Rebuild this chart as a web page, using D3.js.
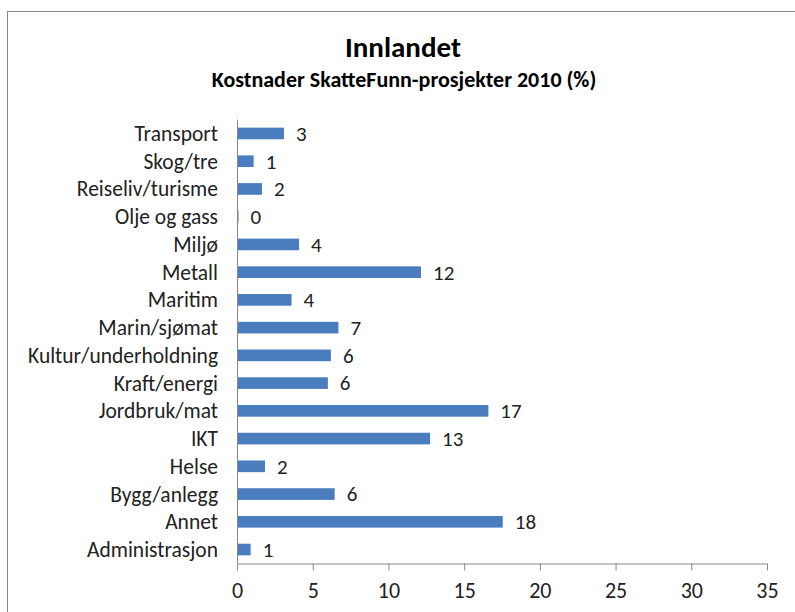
<!DOCTYPE html>
<html>
<head>
<meta charset="utf-8">
<script src="https://cdn.jsdelivr.net/npm/d3@7"></script>
<style>
  body { margin: 0; background: #fff; }
  svg { display: block; }
</style>
</head>
<body>
<svg id="chart" width="795" height="612"></svg>
<script>
const categories = ['Transport', 'Skog/tre', 'Reiseliv/turisme', 'Olje og gass', 'Miljø', 'Metall',
  'Maritim', 'Marin/sjømat', 'Kultur/underholdning', 'Kraft/energi', 'Jordbruk/mat', 'IKT',
  'Helse', 'Bygg/anlegg', 'Annet', 'Administrasjon'];
const values = [3.1, 1.1, 1.65, 0.1, 4.1, 12.15, 3.6, 6.7, 6.2, 6.0, 16.6, 12.75, 1.85, 6.45, 17.55, 0.9];
const xTicks = [0, 5, 10, 15, 20, 25, 30, 35];

const font = 'Carlito, Calibri, "Open Sans", sans-serif';

const svg = d3.select('#chart');

// chart frame
svg.append('rect')
    .attr('x', 7.5).attr('y', 11.5)
    .attr('width', 800).attr('height', 620)
    .attr('fill', 'none')
    .attr('stroke', '#888');

svg.append('text')
    .attr('x', 403).attr('y', 57)
    .attr('text-anchor', 'middle')
    .style('font', `bold 29px ${font}`)
    .text('Innlandet');

svg.append('text')
    .attr('x', 404).attr('y', 87)
    .attr('text-anchor', 'middle')
    .style('font', `bold 22px ${font}`)
    .text('Kostnader SkatteFunn-prosjekter 2010 (%)');

const x = d3.scaleLinear().domain([0, 35]).range([237, 767]);
const y = d3.scaleBand().domain(categories).range([119.6, 563.4]).paddingInner(0.58).paddingOuter(0.29);

const g = svg.append('g');

g.selectAll('rect.bar')
  .data(values)
  .join('rect')
    .attr('class', 'bar')
    .attr('x', x(0))
    .attr('y', (d, i) => y(categories[i]))
    .attr('width', d => x(d) - x(0))
    .attr('height', y.bandwidth())
    .attr('fill', '#4a7dbe');

g.selectAll('text.val')
  .data(values)
  .join('text')
    .attr('class', 'val')
    .attr('x', d => x(d) + 12)
    .attr('y', (d, i) => y(categories[i]) + y.bandwidth() / 2)
    .attr('dy', '0.35em')
    .style('font', `21px ${font}`)
    .attr('fill', '#222')
    .text(d => Math.round(d));

g.selectAll('text.cat')
  .data(categories)
  .join('text')
    .attr('class', 'cat')
    .attr('x', 218)
    .attr('y', d => y(d) + y.bandwidth() / 2)
    .attr('dy', '0.35em')
    .attr('text-anchor', 'end')
    .style('font', `21.5px ${font}`)
    .attr('fill', '#222')
    .text(d => d);

// y axis line
svg.append('line')
    .attr('x1', x(0) + 0.5).attr('x2', x(0) + 0.5)
    .attr('y1', 119.6).attr('y2', 563)
    .attr('stroke', '#888');

const xAxis = svg.append('g')
    .attr('transform', 'translate(0,563.5)')
    .call(d3.axisBottom(x).tickValues(xTicks).tickSize(7).tickSizeOuter(0).tickPadding(12));
xAxis.select('.domain').attr('stroke', '#888');
xAxis.selectAll('.tick line').attr('stroke', '#888');
xAxis.selectAll('.tick text')
    .style('font', `22px ${font}`)
    .attr('fill', '#222');
</script>
</body>
</html>
